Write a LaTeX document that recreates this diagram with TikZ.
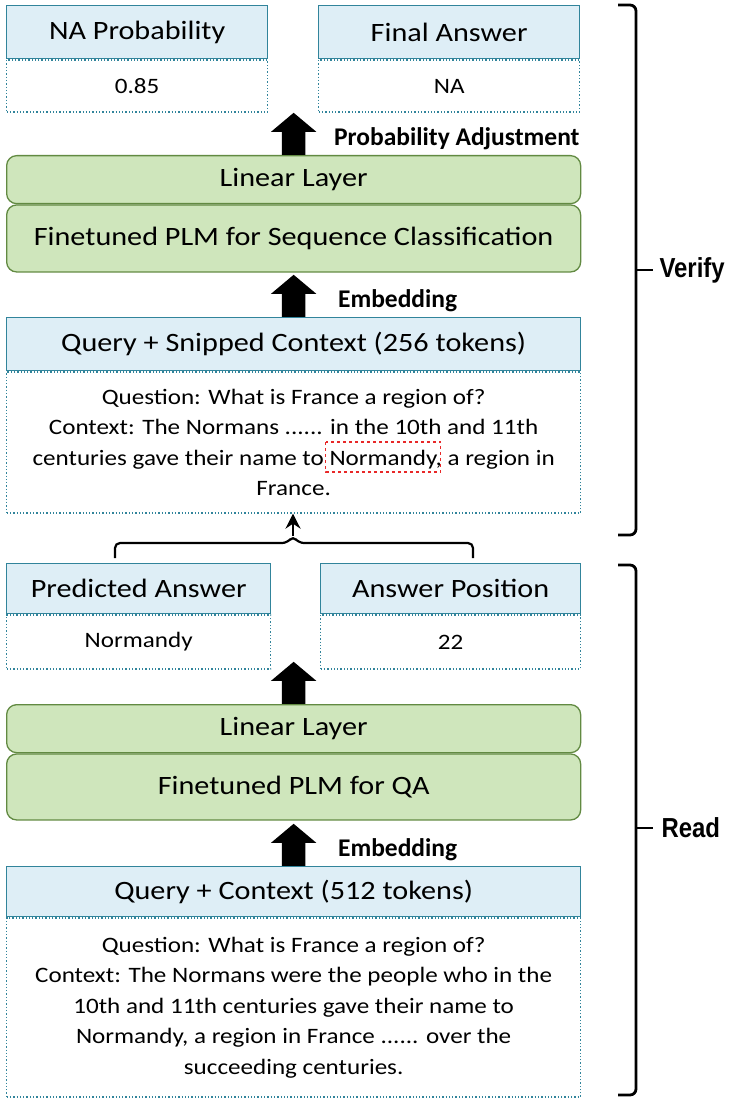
\documentclass[tikz,border=0pt]{standalone}
\usepackage{fontspec}
\setmainfont{Carlito}
\newfontfamily\boxfont[FakeStretch=1.14]{Carlito}
\newfontfamily\stagefont[FakeStretch=0.87]{Liberation Sans}
\usetikzlibrary{positioning,shapes.arrows,arrows.meta}

\definecolor{boxTeal}{RGB}{49,132,155}
\definecolor{headBlue}{RGB}{222,238,246}
\definecolor{layerGreen}{RGB}{207,230,188}
\definecolor{layerEdge}{RGB}{98,138,66}
\definecolor{snipRed}{RGB}{232,40,40}

\newcommand{\headfont}{\boxfont\fontsize{26.5}{30}\selectfont}
\newcommand{\ctxfont}{\boxfont\fontsize{22}{30.5}\selectfont}

\tikzset{
  headbox/.style={draw=boxTeal, fill=headBlue, line width=1.3pt, inner sep=0pt, font=\headfont},
  bodybox/.style={draw=boxTeal, dotted, line width=1.3pt, inner sep=0pt, align=center, font=\ctxfont},
  layerbox/.style={draw=layerEdge, fill=layerGreen, line width=1.3pt, rounded corners=10pt, minimum width=574pt, inner sep=0pt, font=\headfont},
  blockarrow/.style={single arrow, fill=black, draw=none, shape border rotate=90, minimum height=42pt, minimum width=45pt, single arrow head extend=11pt, single arrow tip angle=100, inner sep=11.5pt},
  steplabel/.style={font=\bfseries\fontsize{25.5}{28}\selectfont},
  stagelabel/.style={font=\stagefont\bfseries\fontsize{27.5}{30}\selectfont},
  bracket/.style={line width=2.8pt, rounded corners=6pt},
}

% widths used to frame the answer span in the snipped context
\newlength\snipLineW
\newlength\snipPreW
\newlength\snipWordW

\begin{document}
\settowidth\snipLineW{\ctxfont centuries gave their name to Normandy, a region in}
\settowidth\snipPreW{\ctxfont centuries gave their name to }
\settowidth\snipWordW{\ctxfont Normandy}
\begin{tikzpicture}[x=1pt, y=1pt, yscale=-1]
    \useasboundingbox (0,0) rectangle (730,1099);

    % Verify outputs
    \node[headbox, minimum width=261pt, minimum height=53pt, anchor=north west] (naHead) at (6,5) {NA Probability};
    \node[bodybox, minimum width=261pt, minimum height=52pt, anchor=north] (naBody) at (naHead.south) {0.85};
    \node[headbox, minimum width=261pt, minimum height=53pt, anchor=north west] (finalHead) at (318,5) {Final Answer};
    \node[bodybox, minimum width=261pt, minimum height=52pt, anchor=north] (finalBody) at (finalHead.south) {NA};

    % Verifier layers
    \node[layerbox, minimum height=48pt, anchor=north west] (linSeq) at (6,155) {Linear Layer};
    \node[layerbox, minimum height=67pt, anchor=north] (plmSeq) at (linSeq.south) {Finetuned PLM for Sequence Classification};
    \node[blockarrow, anchor=tail] (adjArrow) at (linSeq.north) {};
    \node[steplabel, right=25pt of adjArrow] (adjLabel) {Probability Adjustment};

    % Snipped input
    \node[headbox, minimum width=574pt, minimum height=53pt, anchor=north west] (snipHead) at (6,317) {Query + Snipped Context (256 tokens)};
    \node[bodybox, minimum width=574pt, minimum height=141pt, anchor=north] (snipBody) at (snipHead.south)
        {Question: What is France a region of?\\
         Context: The Normans ...... in the 10th and 11th\\
         centuries gave their name to Normandy, a region in\\
         France.};
    \draw[snipRed, dashed, line width=1.3pt]
        ({293pt-0.5\snipLineW+\snipPreW-3pt}, 442pt) rectangle ({293pt-0.5\snipLineW+\snipPreW+\snipWordW+4pt}, 472pt);
    \node[blockarrow, anchor=tail] (snipArrow) at (snipHead.north) {};
    \node[steplabel, right=29pt of snipArrow] (snipLabel) {Embedding};

    % Reader outputs
    \node[headbox, minimum width=264pt, minimum height=50pt, anchor=north west] (predHead) at (6,563) {Predicted Answer};
    \node[bodybox, minimum width=264pt, minimum height=54pt, anchor=north] (predBody) at (predHead.south) {Normandy};
    \node[headbox, minimum width=260pt, minimum height=50pt, anchor=north west] (posHead) at (320,563) {Answer Position};
    \node[bodybox, minimum width=260pt, minimum height=54pt, anchor=north] (posBody) at (posHead.south) {22};

    % outputs go back into the snipped input
    \coordinate (mergeTip) at (293,536);
    \draw[line width=2.2pt, rounded corners=5pt] (115,558) |- (287,543) -- (mergeTip) -- (299,543) -| (473,558);
    \draw[-{Stealth[length=15pt,width=15pt]}, line width=2.2pt] (mergeTip) -- (mergeTip |- snipBody.south);

    % Reader layers
    \node[layerbox, minimum height=48pt, anchor=north west] (linQA) at (6,704) {Linear Layer};
    \node[layerbox, minimum height=66pt, anchor=north] (plmQA) at (linQA.south) {Finetuned PLM for QA};
    \node[blockarrow, anchor=tail] (spanArrow) at (linQA.north) {};

    % Full input
    \node[headbox, minimum width=574pt, minimum height=50pt, anchor=north west] (ctxHead) at (6,866) {Query + Context (512 tokens)};
    \node[bodybox, minimum width=574pt, minimum height=179pt, anchor=north] (ctxBody) at (ctxHead.south)
        {Question: What is France a region of?\\
         Context: The Normans were the people who in the\\
         10th and 11th centuries gave their name to\\
         Normandy, a region in France ...... over the\\
         succeeding centuries.};
    \node[blockarrow, anchor=tail] (ctxArrow) at (ctxHead.north) {};
    \node[steplabel, right=29pt of ctxArrow] (ctxLabel) {Embedding};

    % Stage brackets
    \coordinate (verifyTip) at (636,270);
    \coordinate (readTip) at (636,828);
    \draw[bracket] (618,5) -| (verifyTip) |- (618,535);
    \draw[line width=2.8pt] (verifyTip) -- ++(17,0);
    \draw[bracket] (618,565) -| (readTip) |- (618,1095);
    \draw[line width=2.8pt] (readTip) -- ++(17,0);
    \node[stagelabel, anchor=west] (verifyLabel) at (656,270) {Verify};
    \node[stagelabel, anchor=west] (readLabel) at (658,828) {Read};
\end{tikzpicture}
\end{document}
